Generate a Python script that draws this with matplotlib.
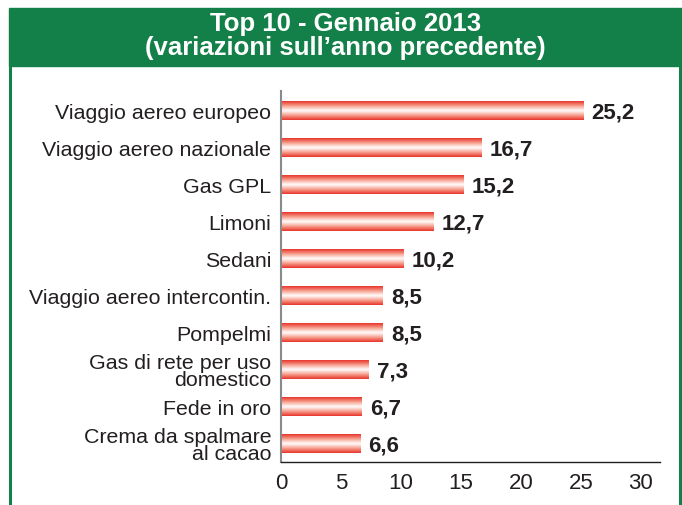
import numpy as np
import matplotlib.pyplot as plt
from matplotlib.patches import Rectangle
from matplotlib.colors import LinearSegmentedColormap

plt.rcParams['font.family'] = ['Liberation Sans', 'DejaVu Sans']

# data
categories = ["Viaggio aereo europeo", "Viaggio aereo nazionale", "Gas GPL", "Limoni",
              "Sedani", "Viaggio aereo intercontin.", "Pompelmi",
              "Gas di rete per uso\ndomestico", "Fede in oro", "Crema da spalmare\nal cacao"]
values = [25.2, 16.7, 15.2, 12.7, 10.2, 8.5, 8.5, 7.3, 6.7, 6.6]
value_labels = ["25,2", "16,7", "15,2", "12,7", "10,2", "8,5", "8,5", "7,3", "6,7", "6,6"]
xticks = [0, 5, 10, 15, 20, 25, 30]

green = '#128048'
W, H = 682, 506
fig = plt.figure(figsize=(W / 100, H / 100), dpi=100)

# green header + frame
fig.patches.append(Rectangle((9 / W, 1 - 67 / H), (682 - 9) / W, 58 / H,
                             transform=fig.transFigure, color=green, zorder=0))
fig.add_artist(plt.Line2D([10 / W, 10 / W], [0, 1 - 67 / H], color=green, lw=2.2,
                          transform=fig.transFigure))
fig.add_artist(plt.Line2D([680 / W, 680 / W], [0, 1 - 67 / H], color=green, lw=2.2,
                          transform=fig.transFigure))
fig.text(0.5 * (9 + 682) / W, 1 - 36 / H, "Top 10 - Gennaio 2013\n(variazioni sull\u2019anno precedente)",
         ha='center', va='center', color='white', fontsize=18.5, fontweight='bold',
         linespacing=0.97)

ax = fig.add_axes([281 / W, 1 - 463 / H, (660 - 281) / W, (463 - 92) / H])

cmap = LinearSegmentedColormap.from_list('bar', ['#e8332a', '#f7a08f', '#ffffff', '#f7a08f', '#e8332a'])
grad = np.linspace(0, 1, 64).reshape(-1, 1)
h = 0.5
ypos = np.arange(len(values))
for y, v, lab in zip(ypos, values, value_labels):
    ax.imshow(grad, cmap=cmap, aspect='auto', extent=(0, v, y + h / 2, y - h / 2),
              interpolation='bicubic', zorder=2)
    ax.text(v + 0.7, y + 0.02, lab, va='center', ha='left', fontsize=16,
            fontweight='bold', color='#231f20')

ax.set_xlim(0, 31.6)
ax.set_ylim(9.49, -0.54)
ax.set_yticks(ypos)
ax.set_yticklabels(categories, fontsize=15.4, color='#231f20', linespacing=0.88)
ax.set_xticks(xticks)
ax.set_xticklabels([str(t) for t in xticks], fontsize=16, color='#231f20')
ax.tick_params(axis='y', length=0, pad=7)
ax.tick_params(axis='x', length=0, pad=7)
for s in ['top', 'right']:
    ax.spines[s].set_visible(False)
ax.spines['left'].set_color('#8a8a8a')
ax.spines['left'].set_linewidth(1.5)
ax.spines['bottom'].set_color('#231f20')
ax.spines['bottom'].set_linewidth(1.0)

fig.savefig('out.png', dpi=100)
